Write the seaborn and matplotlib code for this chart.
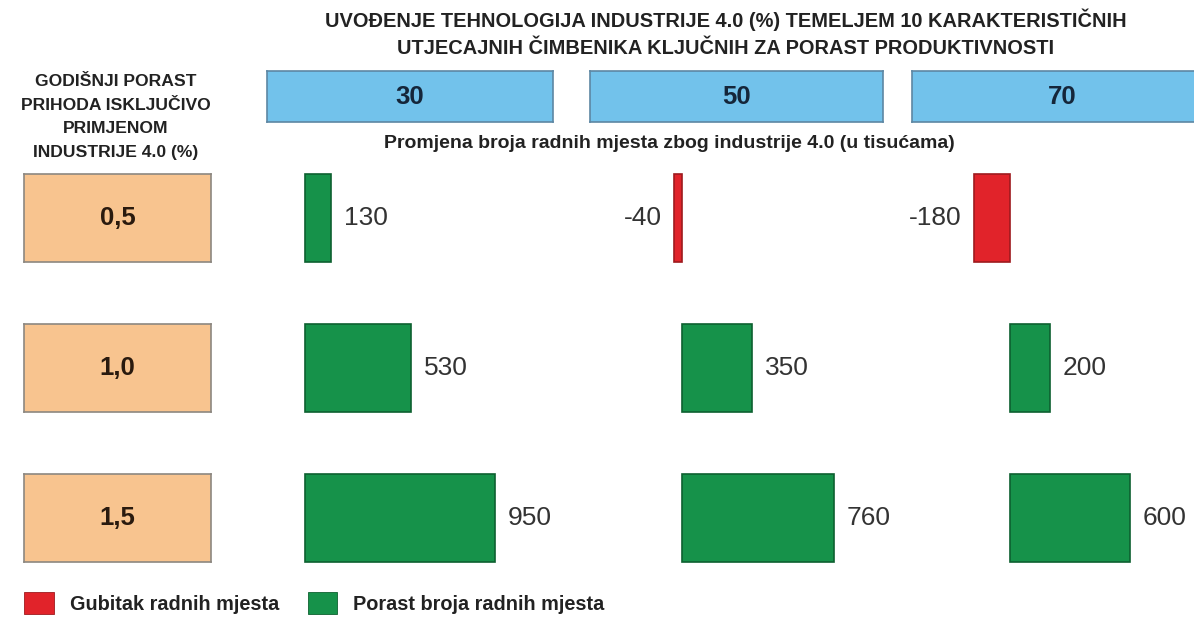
import numpy as np
import pandas as pd
import matplotlib
matplotlib.use('Agg')
import matplotlib.pyplot as plt
import seaborn as sns
from matplotlib.patches import Patch

sns.set_theme(style='white')
plt.rcParams['font.family'] = ['Liberation Sans', 'DejaVu Sans']

# Podaci - promjena broja radnih mjesta (u tisucama)
stope_prihoda = ['0,5', '1,0', '1,5']        # redovi: godisnji porast prihoda (%)
udio_tehnologija = ['30', '50', '70']        # stupci: uvodenje tehnologija (%)
promjena_30 = [130, 530, 950]
promjena_50 = [-40, 350, 760]
promjena_70 = [-180, 200, 600]

legenda = ['Gubitak radnih mjesta', 'Porast broja radnih mjesta']
boje = {legenda[0]: '#e1232a', legenda[1]: '#16924a'}
rubovi = {legenda[0]: '#9e1a1e', legenda[1]: '#0d6030'}

naslov = ('UVOĐENJE TEHNOLOGIJA INDUSTRIJE 4.0 (%) TEMELJEM 10 KARAKTERISTIČNIH\n'
          'UTJECAJNIH ČIMBENIKA KLJUČNIH ZA PORAST PRODUKTIVNOSTI')
lijevi_naslov = 'GODIŠNJI PORAST\nPRIHODA ISKLJUČIVO\nPRIMJENOM\nINDUSTRIJE 4.0 (%)'
podnaslov = 'Promjena broja radnih mjesta zbog industrije 4.0 (u tisućama)'

df = pd.DataFrame({
    'prihod': stope_prihoda * 3,
    'tehnologija': np.repeat(udio_tehnologija, 3),
    'promjena': promjena_30 + promjena_50 + promjena_70,
})
df['vrsta'] = np.where(df['promjena'] < 0, legenda[0], legenda[1])

W, H = 1194, 617
fig = plt.figure(figsize=(W / 100, H / 100), dpi=100)


def px(x, y, w, h):
    # pravokutnik u pikselima (od gornjeg lijevog kuta) -> koordinate figure
    return [x / W, 1 - (y + h) / H, w / W, h / H]


# Naslovi
fig.text(726 / W, 1 - 33 / H, naslov, ha='center', va='center', fontsize=14.4,
         fontweight='bold', color='#222222', linespacing=1.5)
fig.text(116 / W, 1 - 117 / H, lijevi_naslov, ha='center', va='center', fontsize=12.6,
         fontweight='bold', color='#222222', linespacing=1.7)
fig.text(669 / W, 1 - 143 / H, podnaslov, ha='center', va='center', fontsize=14,
         fontweight='bold', color='#222222')

# Plave kucice s postotkom tehnologija
plave = [(267, 286), (590, 293), (912, 300)]
for (x, w), oznaka in zip(plave, udio_tehnologija):
    axh = fig.add_axes(px(x, 71, w, 51))
    axh.set_facecolor('#72c2eb')
    axh.set_xticks([])
    axh.set_yticks([])
    for s in axh.spines.values():
        s.set_color('#5d87a3')
        s.set_linewidth(1.2)
    axh.text(0.5, 0.5, oznaka, ha='center', va='center', fontsize=18.5,
             fontweight='bold', color='#15263a', transform=axh.transAxes)

# Narancaste kucice s porastom prihoda
for i, oznaka in enumerate(stope_prihoda):
    axr = fig.add_axes(px(24, 174 + 150 * i, 187, 88))
    axr.set_facecolor('#f8c48f')
    axr.set_xticks([])
    axr.set_yticks([])
    for s in axr.spines.values():
        s.set_color('#8c8780')
        s.set_linewidth(1.2)
    axr.text(0.5, 0.5, oznaka, ha='center', va='center', fontsize=18.5,
             fontweight='bold', color='#2a1a0e', transform=axr.transAxes)

# Stupci s promjenom radnih mjesta (sirina proporcionalna vrijednosti)
pocetci = [305, 682, 1010]
for x0, tech in zip(pocetci, udio_tehnologija):
    sub = df[df['tehnologija'] == tech]
    ax = fig.add_axes(px(x0 - 60, 143, 300, 450))
    sns.barplot(data=sub, x='promjena', y='prihod', hue='vrsta', palette=boje,
                hue_order=legenda, order=stope_prihoda, orient='h', dodge=False,
                width=0.587, legend=False, ax=ax, linewidth=1.2, saturation=1)
    for p in ax.patches:
        if p.get_width() == 0:
            continue
        kljuc = legenda[0] if p.get_width() < 0 else legenda[1]
        p.set_edgecolor(rubovi[kljuc])
    for i, v in enumerate(sub['promjena']):
        ax.annotate(str(v), xy=(v, i), xytext=(9 if v > 0 else -9, 0),
                    textcoords='offset points', ha='left' if v > 0 else 'right',
                    va='center', fontsize=19, color='#333333')
    ax.set_xlim(-300, 1200)
    ax.set_ylim(2.5, -0.5)
    ax.axis('off')

# Legenda
ruke = [Patch(facecolor=boje[k], edgecolor=rubovi[k], linewidth=0.6) for k in legenda]
leg = fig.legend(ruke, legenda, loc='center left', bbox_to_anchor=(16 / W, 1 - 603 / H),
                 ncol=2, frameon=False, borderaxespad=0, handlelength=1.5,
                 handleheight=1.3, handletextpad=0.8, columnspacing=1.45,
                 prop={'size': 14.3, 'weight': 'bold'})
for t in leg.get_texts():
    t.set_color('#222222')

fig.savefig('out.png', dpi=100)
